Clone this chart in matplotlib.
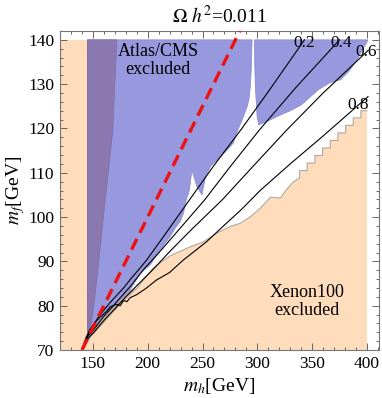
import matplotlib
matplotlib.use('Agg')
import matplotlib.pyplot as plt

plt.rcParams['font.family'] = ['Liberation Serif', 'DejaVu Serif']
plt.rcParams['mathtext.fontset'] = 'stix'

# --- data ---
# Xenon100 allowed (white) region, lower edge, right to left (m_h, m_f)
xenon_edge_x = [400, 400, 394.5, 394.5, 387.5, 387.5, 380.5, 380.5, 373.5, 373.5,
                366.5, 366.5, 359.5, 359.5, 352.5, 352.5, 345.5, 345.5, 338.5, 338.5,
                331.8, 326, 321.1, 312, 302.8, 293.7, 284.5, 275.4, 263.2, 250,
                238.8, 220, 205, 190, 180, 170, 160, 150, 145]
xenon_edge_y = [140, 124, 124, 122.4, 122.4, 120.7, 120.7, 119.0, 119.0, 117.3,
                117.3, 115.6, 115.6, 113.9, 113.9, 112.2, 112.2, 110.5, 110.5, 108.9,
                107.7, 106.0, 104.3, 104.5, 102.0, 100.1, 98.6, 97.9, 96.4, 94.3,
                93.3, 91.2, 88.5, 83.9, 81.6, 79.0, 76.3, 73.6, 72.2]

# Xenon100 excluded strip at small m_h that lies under the Atlas/CMS region
band_x = [145, 145.5, 149, 151.4, 153.5, 154.5, 159.5, 164, 168.2, 170, 171.8]
band_y = [73, 73, 76.8, 81.3, 85.8, 88.1, 100, 110, 119.7, 130, 140]

# Atlas/CMS excluded, main piece (right boundary, top to bottom)
atlas_x = [145, 295.2, 294.6, 293.7, 292.3, 290.7, 286.1, 282, 278.1, 272, 263.2,
           257.1, 252.5, 249.5, 244.9, 240.3, 238, 235.2, 232.7, 229.7, 225,
           220.5, 211.4, 202.3, 193.1, 184, 174.8, 162.7, 150.4, 145]
atlas_y = [140, 140, 134, 129.5, 126.5, 124.9, 121.9, 119.5, 116.7, 115, 112.9,
           111.4, 108.8, 105.0, 106.9, 110.6, 106, 103.9, 100.9, 99.0, 97.5,
           95.6, 92.6, 89.2, 87.3, 83.6, 81.3, 78.3, 75.3, 73]

# Atlas/CMS excluded, piece right of the resonance spike
atlas2_x = [297.3, 401, 396, 391, 384, 376, 366, 356, 350, 340, 330, 318, 308,
            301.3, 299.8, 299, 298.2, 297.7]
atlas2_y = [140, 140, 137.8, 135.5, 133.0, 131, 130.3, 128.8, 127.5, 125.3, 124.0,
            122.7, 121.5, 120.8, 122.7, 126, 129.5, 134]

# strip where the contours bunch up
mix_x = [141, 145, 150.4, 162.7, 174.8, 184, 190, 180, 170, 160, 150, 143]
mix_y = [70.3, 73, 75.3, 78.3, 81.3, 83.6, 83.9, 81.6, 79.0, 76.3, 73.6, 70.8]

# contours of the fraction, labelled
c02_x = [140, 142, 144.4, 147, 150.5, 155, 160, 166, 172, 178, 185, 192, 199,
         215, 237, 260, 285, 310, 343]
c02_y = [70.3, 71.6, 73.2, 74.2, 75.6, 77.4, 79.0, 80.8, 82.4, 84.0, 86.2, 88.2,
         90.3, 95.8, 103.5, 111.5, 119.7, 128.3, 140]
c04_x = [140.5, 143, 146, 150, 155, 160, 167, 175, 185, 197, 210, 230, 252, 275,
         302, 335, 375]
c04_y = [70.5, 72, 73.3, 74.3, 76, 77.6, 79.5, 81.8, 84.6, 88.4, 91.9, 97.6,
         103.9, 111.3, 119.7, 129.2, 140]
c06_x = [141, 144, 147, 151, 156, 162, 170, 180, 192, 205, 220, 240, 268, 297,
         327, 360, 401]
c06_y = [70.5, 72, 73, 74, 75.5, 77.2, 79.3, 82, 85, 88.2, 92.2, 97.2, 103.9,
         111.7, 119.7, 128, 137.6]
c08_x = [141.5, 143, 147, 152, 157, 162, 166, 172, 175, 178, 181, 184, 190, 199,
         208, 220, 232, 254, 270, 285, 303, 330, 360, 401]
c08_y = [70.3, 71.6, 74.5, 76.3, 77.5, 78.6, 79.8, 80.3, 80.0, 81.2, 80.9, 81.8,
         82.5, 84, 85.8, 87.5, 90.2, 94.5, 98.2, 101.6, 106.1, 112, 118.3, 127.2]
contour_labels = ['0.2', '0.4', '0.6', '0.8']
label_x = [343, 376.5, 399.5, 392]
label_y = [139.2, 139.4, 137.2, 125.3]

# m_f = m_h / 2
half_x = [140, 290]
half_y = [70, 145]

orange = '#ffdcbb'
blue = '#9898de'
purple = '#8b78ae'

fig = plt.figure(figsize=(3.82, 3.98), dpi=100)
ax = fig.add_axes([60 / 382, 48 / 398, 319 / 382, 319 / 398])

# Xenon100 excluded everywhere, allowed region cut out in white
ax.fill([120, 400, 400, 120], [70, 70, 140, 140], color=orange, lw=0, zorder=1)
ax.fill(xenon_edge_x + [145, 165], xenon_edge_y + [140, 140], color='white', lw=0, zorder=2)
ax.plot(xenon_edge_x[1:], xenon_edge_y[1:], color='#b0a8a0', lw=0.8, zorder=3)
ax.fill(mix_x, mix_y, color='#c4b2a2', lw=0, zorder=3)

# Atlas/CMS excluded
ax.fill(atlas_x, atlas_y, facecolor=blue, edgecolor='#8585cc', lw=0.5, zorder=4)
ax.fill(atlas2_x, atlas2_y, facecolor=blue, edgecolor='#8585cc', lw=0.5, zorder=4)
ax.fill(band_x + [145], band_y + [140], facecolor=purple, edgecolor='#7d6ca5', lw=0.5, zorder=5)

for cx, cy in [(c02_x, c02_y), (c04_x, c04_y), (c06_x, c06_y), (c08_x, c08_y)]:
    ax.plot(cx, cy, color='black', lw=0.8, zorder=6)
for lab, lx, ly in zip(contour_labels, label_x, label_y):
    ax.text(lx, ly, lab, fontsize=12.5, ha='center', va='center', zorder=7)

ax.plot(half_x, half_y, color='#ee1111', lw=2.4, dashes=(3.6, 2.0), zorder=8)

ax.text(209.5, 135.3, 'Atlas/CMS\nexcluded', fontsize=13, ha='center', va='center',
        linespacing=1.05, zorder=7)
ax.text(345, 81, 'Xenon100\nexcluded', fontsize=13, ha='center', va='center',
        linespacing=1.05, zorder=7)

ax.set_xlim(120, 411)
ax.set_ylim(70, 142)
ax.set_xticks([150, 200, 250, 300, 350, 400])
ax.set_xticks(list(range(120, 411, 10)), minor=True)
ax.set_yticks(list(range(70, 141, 10)))
ax.set_yticks(list(range(70, 143, 2)), minor=True)
ax.tick_params(which='both', direction='in', top=True, right=True, color='#666666',
               labelsize=12.5, width=0.7)
ax.tick_params(which='major', length=5, pad=4)
ax.tick_params(which='minor', length=2.5)
for s in ax.spines.values():
    s.set_color('#777777')
    s.set_linewidth(0.8)

ax.set_xlabel('$m_h$[GeV]', fontsize=14, labelpad=3)
ax.set_ylabel('$m_f$[GeV]', fontsize=14, labelpad=1)
ax.set_title(r'$\Omega\ h^2$=0.011', fontsize=14, pad=6)

fig.savefig('out.png', dpi=100)
